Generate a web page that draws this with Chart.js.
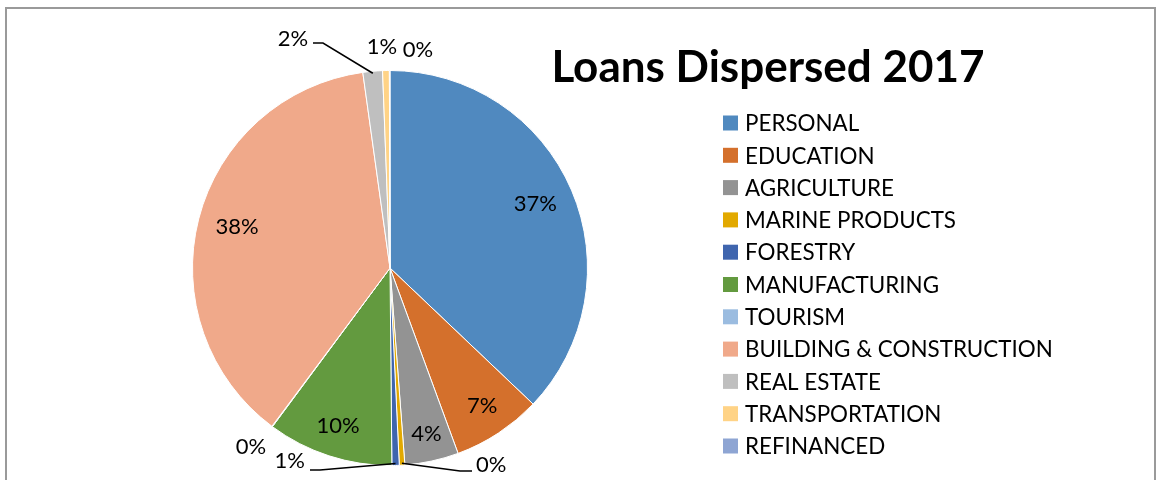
<!DOCTYPE html>
<html>
<head>
<meta charset="utf-8">
<script src="https://cdn.jsdelivr.net/npm/chart.js@4"></script>
<style>
  html, body { margin: 0; padding: 0; background: #fff; }
  #wrap { width: 1159px; height: 480px; position: relative; }
</style>
</head>
<body>
<div id="wrap"><canvas id="loansChart" width="1159" height="480"></canvas></div>
<script>
// data (share of total, %)
const categories = ['PERSONAL', 'EDUCATION', 'AGRICULTURE', 'MARINE PRODUCTS', 'FORESTRY',
    'MANUFACTURING', 'TOURISM', 'BUILDING & CONSTRUCTION', 'REAL ESTATE', 'TRANSPORTATION', 'REFINANCED'];
const shares = [37.1, 7.3, 4.4, 0.45, 0.6, 10.3, 0.05, 37.6, 1.6, 0.55, 0.05];
const sliceColors = ['#5089BF', '#D4702C', '#939393', '#E2A900', '#3F65AE', '#639A3F',
    '#9BBCE0', '#F0A98A', '#BFBFBF', '#FFD386', '#8EA5D3'];
const chartTitle = 'Loans Dispersed 2017';

const FONT = 'Lato, "Liberation Sans", sans-serif';

// where the small slices get their labels (outside the pie)
const callouts = {
    3: { text: [476, 465], align: 'left', line: [[460, 471], [472, 471]] },
    4: { text: [305, 461], align: 'right', line: [[320, 470], [310, 470]] },
    6: { text: [251, 447], align: 'center' },
    8: { text: [293, 39], align: 'center', line: [[323, 43], [313, 43]] },
    9: { text: [382, 47], align: 'center' },
    10: { text: [418, 50], align: 'center' }
};

const decorations = {
    id: 'decorations',
    beforeDraw(chart) {
        const c = chart.ctx;
        c.save();
        c.strokeStyle = '#9a9a9a';
        c.lineWidth = 2;
        c.strokeRect(6, 8, 1149, 480);
        c.restore();
    },
    afterDraw(chart) {
        const c = chart.ctx;
        const meta = chart.getDatasetMeta(0);
        const total = shares.reduce((a, b) => a + b, 0);
        c.save();
        c.textBaseline = 'middle';
        c.font = '22px ' + FONT;
        c.fillStyle = '#000';
        meta.data.forEach((arc, i) => {
            const pct = Math.round(shares[i] / total * 100) + '%';
            const mid = (arc.startAngle + arc.endAngle) / 2;
            const co = callouts[i];
            if (co) {
                if (co.line) {
                    c.strokeStyle = '#000';
                    c.lineWidth = 1.5;
                    c.beginPath();
                    c.moveTo(arc.x + Math.cos(mid) * (arc.outerRadius - 2), arc.y + Math.sin(mid) * (arc.outerRadius - 2));
                    co.line.forEach(p => c.lineTo(p[0], p[1]));
                    c.stroke();
                }
                c.textAlign = co.align;
                c.fillText(pct, co.text[0], co.text[1]);
            } else {
                // best-fit style: small slices pushed nearer the rim
                const f = shares[i] > 30 ? 0.8 : (shares[i] >= 5 ? 0.85 : 0.87);
                c.textAlign = 'center';
                c.fillText(pct, arc.x + Math.cos(mid) * arc.outerRadius * f, arc.y + Math.sin(mid) * arc.outerRadius * f - 2);
            }
        });

        // title
        c.font = 'bold 44px ' + FONT;
        c.textAlign = 'center';
        c.fillText(chartTitle, 768, 68);

        // legend
        c.font = '22.4px ' + FONT;
        c.textAlign = 'left';
        chart.data.labels.forEach((lab, i) => {
            const y = 123 + i * 32.3;
            c.fillStyle = chart.data.datasets[0].backgroundColor[i];
            c.fillRect(723, y - 7.5, 15, 15);
            c.fillStyle = '#000';
            c.fillText(lab, 745, y + 1);
        });
        c.restore();
    }
};

new Chart(document.getElementById('loansChart'), {
    type: 'pie',
    data: {
        labels: categories,
        datasets: [{
            data: shares,
            backgroundColor: sliceColors,
            borderColor: '#ffffff',
            borderWidth: 1
        }]
    },
    options: {
        responsive: false,
        animation: false,
        layout: { padding: { left: 192, right: 571, top: 70, bottom: 14 } },
        plugins: {
            legend: { display: false },
            tooltip: { enabled: false }
        }
    },
    plugins: [decorations]
});
</script>
</body>
</html>
